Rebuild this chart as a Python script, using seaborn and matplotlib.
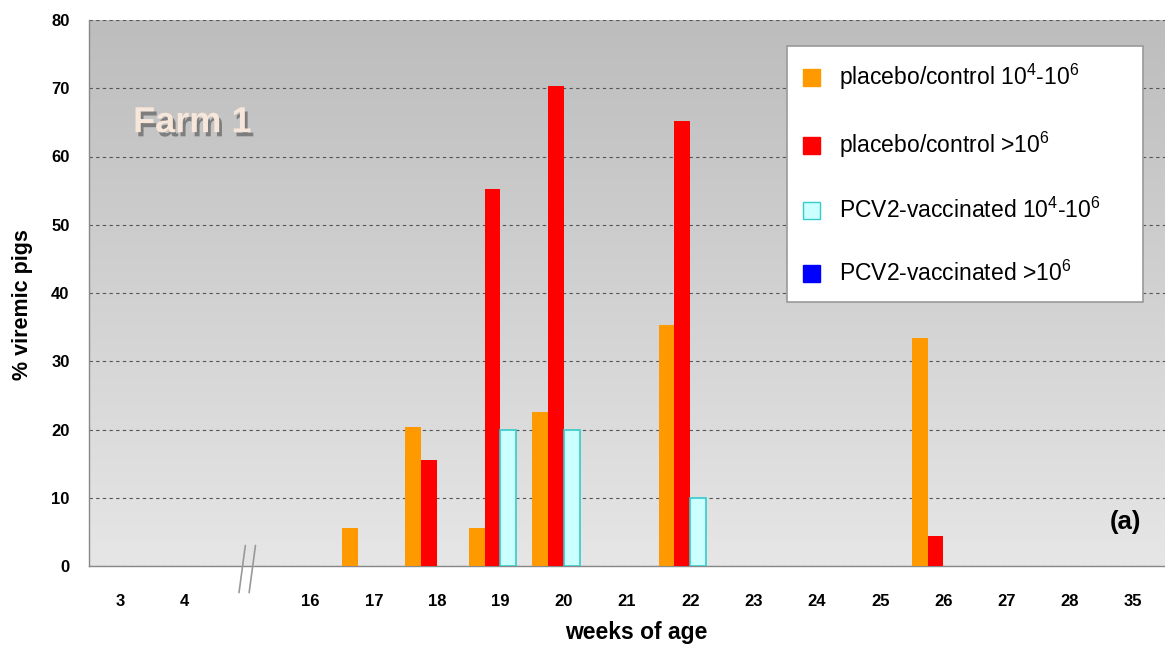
import numpy as np
import pandas as pd
import seaborn as sns
import matplotlib.pyplot as plt
import matplotlib.patheffects as pe
from matplotlib.colors import LinearSegmentedColormap
from matplotlib.patches import Patch

# Data
weeks = ['3', '4', '', '16', '17', '18', '19', '20', '21', '22', '23', '24',
         '25', '26', '27', '28', '35']
groups = ['placebo/control 10$^4$-10$^6$', 'placebo/control >10$^6$',
          'PCV2-vaccinated 10$^4$-10$^6$', 'PCV2-vaccinated >10$^6$']
placebo_low = [0, 0, 0, 0, 5.5, 20.4, 5.5, 22.5, 0, 35.3, 0, 0, 0, 33.4, 0, 0, 0]
placebo_high = [0, 0, 0, 0, 0, 15.5, 55.3, 70.4, 0, 65.2, 0, 0, 0, 4.4, 0, 0, 0]
vacc_low = [0, 0, 0, 0, 0, 0, 20, 20, 0, 10, 0, 0, 0, 0, 0, 0, 0]
vacc_high = [0] * 17

colors = ['#ff9900', '#ff0000', '#ccffff', '#0000ff']

df = pd.DataFrame({'week': weeks * 4,
                   'group': np.repeat(groups, len(weeks)),
                   'value': placebo_low + placebo_high + vacc_low + vacc_high})

sns.set_style('white')
plt.rcParams['font.family'] = ['Liberation Sans', 'DejaVu Sans']
plt.rcParams['mathtext.fontset'] = 'custom'
plt.rcParams['mathtext.rm'] = 'Liberation Sans'
plt.rcParams['mathtext.default'] = 'regular'
plt.rcParams['text.color'] = 'black'
plt.rcParams['axes.labelcolor'] = 'black'
plt.rcParams['xtick.labelcolor'] = 'black'
plt.rcParams['ytick.labelcolor'] = 'black'

fig = plt.figure(figsize=(11.65, 6.45), dpi=100)
ax = fig.add_axes([89 / 1165, 79 / 645, 1 - 89 / 1165, 546 / 645])

# gradient background
grad = np.linspace(0, 1, 256).reshape(-1, 1)
ax.imshow(grad, extent=[0, 1, 0, 1], transform=ax.transAxes, aspect='auto',
          cmap=LinearSegmentedColormap.from_list('bg', ['#e6e6e6', '#bdbdbd']),
          origin='lower', zorder=0)

sns.barplot(data=df, x='week', y='value', hue='group', order=weeks,
            hue_order=groups, palette=colors, width=1.0, gap=0,
            saturation=1, ax=ax, legend=False, zorder=3, linewidth=0)

# outline the light cyan bars (only the ones that have a height)
for bar in ax.containers[2]:
    if bar.get_height() > 0:
        bar.set_edgecolor('#33cccc')
        bar.set_linewidth(1.2)

ax.set_xlim(-0.5, len(weeks) - 0.5)
ax.set_ylim(0, 80)
ax.set_yticks(range(0, 81, 10))
ax.yaxis.grid(True, linestyle=(0, (3, 3)), color='#555555', linewidth=0.8, zorder=1)
ax.set_axisbelow(True)

ax.set_xticks(range(len(weeks)))
ax.set_xticklabels(weeks, fontweight='bold', fontsize=12)
ax.set_xticks(np.arange(-0.5, len(weeks) - 0.4, 1), minor=True)
ax.tick_params(axis='x', which='major', length=0, pad=20)
ax.tick_params(axis='x', which='minor', length=6, color='#888888', width=1)
ax.tick_params(axis='y', length=6, color='#888888', labelsize=12, pad=8)
for t in ax.get_yticklabels():
    t.set_fontweight('bold')

for s in ['top', 'right']:
    ax.spines[s].set_visible(False)
for s in ['left', 'bottom']:
    ax.spines[s].set_color('#888888')
    ax.spines[s].set_linewidth(1)

ax.set_xlabel('weeks of age', fontsize=16.5, fontweight='bold')
ax.set_ylabel('% viremic pigs', fontsize=15.5, fontweight='bold')
ax.xaxis.set_label_coords(0.509, -0.1)
ax.yaxis.set_label_coords(-0.052, 0.478)

# axis break mark
for dx in (-0.08, 0.08):
    ax.plot([2 + dx - 0.05, 2 + dx + 0.05], [-3.9, 3.0], color='#999999',
            linewidth=1.2, clip_on=False, zorder=5)

ax.text(0.041, 0.812, 'Farm 1', transform=ax.transAxes, fontsize=26,
        fontweight='bold', color='#f7e6da', ha='left', va='center',
        path_effects=[pe.withSimplePatchShadow(offset=(2, -3),
                                               shadow_rgbFace='#444444',
                                               alpha=0.55)])
ax.text(0.949, 0.081, '(a)', transform=ax.transAxes, fontsize=18.5,
        fontweight='bold', ha='left', va='center')

handles = [Patch(facecolor=c, edgecolor=('#33cccc' if i == 2 else c))
           for i, c in enumerate(colors)]
leg = fig.legend(handles, groups, loc='upper left',
                 bbox_to_anchor=(787 / 1165, (645 - 298) / 645, 356 / 1165, 252 / 645),
                 mode='expand', frameon=True, fancybox=False, fontsize=16.5,
                 labelspacing=1.65, handlelength=0.75, handleheight=0.75,
                 handletextpad=0.8, borderpad=0.7, borderaxespad=0,
                 framealpha=1)
leg.get_frame().set_edgecolor('#999999')
leg.get_frame().set_facecolor('white')
leg.get_frame().set_linewidth(1.2)

fig.savefig('out.png', dpi=100)
